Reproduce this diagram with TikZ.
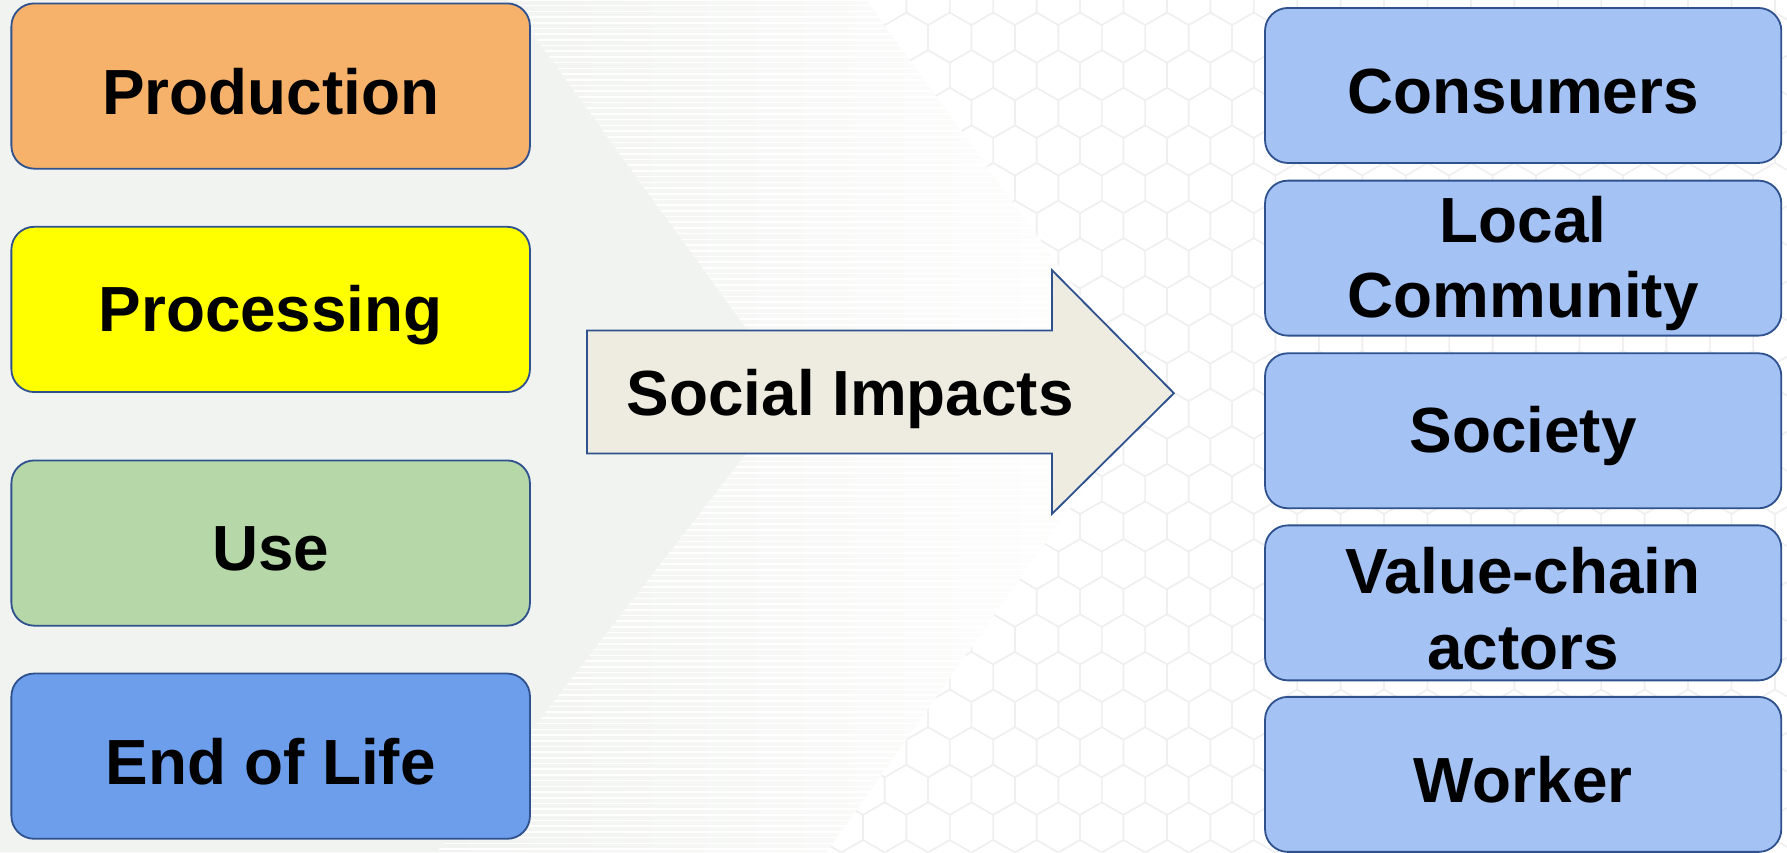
\documentclass[tikz,border=0pt]{standalone}
\usepackage{fontspec}
\setmainfont{Liberation Sans}
\definecolor{bordc}{HTML}{2F528F}
\definecolor{prodc}{HTML}{F6B26B}
\definecolor{procc}{HTML}{FFFF00}
\definecolor{usec}{HTML}{B6D7A8}
\definecolor{eolc}{HTML}{6D9EEB}
\definecolor{grpc}{HTML}{A4C2F4}
\definecolor{arrc}{HTML}{EEECE1}
\definecolor{bgg}{HTML}{F1F3F0}
\definecolor{hexc}{HTML}{EFEFEF}
\tikzset{
  lbl/.style={font=\fontsize{28}{33}\selectfont\bfseries, align=center, text=black, yshift=-2.5pt},
  stage/.style={draw=bordc, line width=0.8pt, rounded corners=10pt,
    minimum width=227.5pt, minimum height=72.5pt, inner sep=0pt},
  grp/.style={draw=bordc, line width=0.8pt, rounded corners=10pt, fill=grpc,
    minimum width=226.5pt, minimum height=68pt, inner sep=0pt},
  hexline/.style={draw=hexc, line width=0.6pt},
  stripe/.style={draw=white, line width=0.7pt}
}
\begin{document}
\begin{tikzpicture}[x=0.5pt, y=-0.5pt]
  \useasboundingbox (0,0) rectangle (1568,748);
  \fill[white] (0,0) rectangle (1568,748);
  % hexagon pattern on the right
  \begin{scope}
    \clip (760,0) -- (1568,0) -- (1568,748) -- (725,748) -- (1010,345) -- cycle;
    \foreach \r in {0,...,23} {
      \foreach \c in {0,...,24} {
        \pgfmathsetmacro\hx{700+\c*38.105+mod(\r,2)*19.05}
        \pgfmathsetmacro\hy{\r*33}
        \draw[hexline] (\hx,\hy) +(30:22) -- +(90:22) -- +(150:22) -- +(210:22) -- +(270:22) -- +(330:22) -- cycle;
      }
    }
  \end{scope}
  % grey left region
  \fill[bgg] (0,0) -- (446,0) -- (696,345) -- (383,748) -- (0,748) -- cycle;
  % striped band
  \begin{scope}
    \clip (446,0) -- (760,0) -- (1010,345) -- (725,748) -- (383,748) -- (696,345) -- cycle;
    \shade[left color=bgg, right color=white!97!bgg] (383,0) rectangle (1010,748);
    \foreach \k in {0,...,150} {
      \draw[stripe] (380,\k*5) -- (1012,\k*5);
    }
  \end{scope}

  % life-cycle stages
  \node[stage, fill=prodc, label={[lbl]center:Production}] (prod) at (237.5,75.5) {};
  \node[stage, fill=procc, label={[lbl]center:Processing}] (proc) at (237.5,271.5) {};
  \node[stage, fill=usec, label={[lbl]center:Use}] (use) at (237.5,476.5) {};
  \node[stage, fill=eolc, label={[lbl]center:End of Life}] (eol) at (237.5,663.5) {};

  % arrow
  \draw[draw=bordc, line width=0.8pt, fill=arrc, line join=miter]
    (515,290) -- (923,290) -- (923,237) -- (1030,345) -- (923,451) -- (923,398) -- (515,398) -- cycle;
  \node[lbl] (imp) at (746,345) {Social Impacts};

  % stakeholder groups
  \node[grp, label={[lbl]center:Consumers}] (cons) at (1336.5,75) {};
  \node[grp, label={[lbl]center:Local\\Community}] (loc) at (1336.5,226.5) {};
  \node[grp, label={[lbl]center:Society}] (soc) at (1336.5,378) {};
  \node[grp, label={[lbl]center:Value-chain\\actors}] (vca) at (1336.5,529) {};
  \node[grp, label={[lbl]center:Worker}] (work) at (1336.5,679.5) {};
\end{tikzpicture}
\end{document}
